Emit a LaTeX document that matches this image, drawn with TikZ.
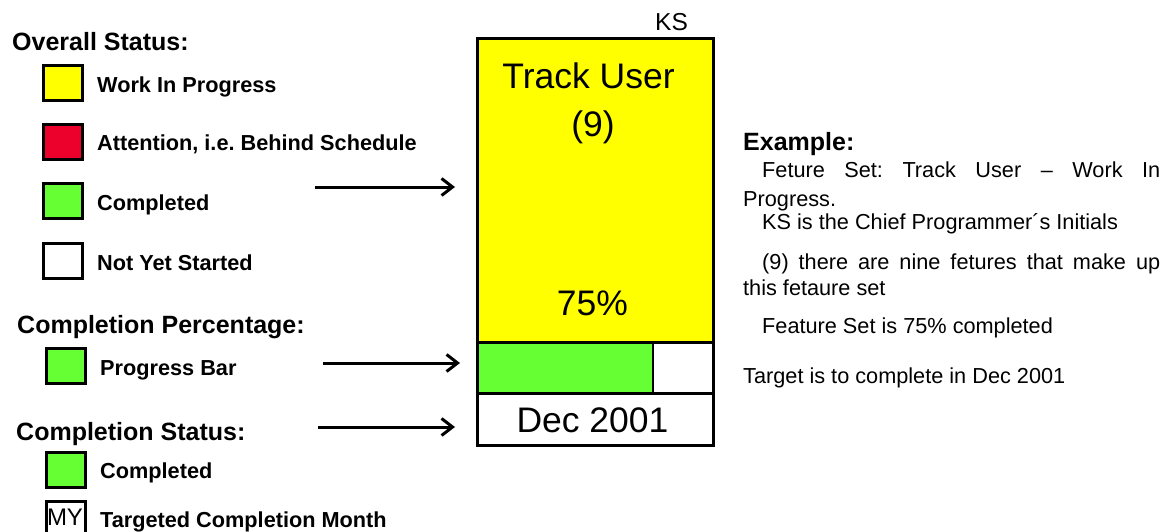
\documentclass[tikz,border=0pt]{standalone}
\usepackage{fontspec}
\setmainfont{Liberation Sans}
\usetikzlibrary{arrows.meta,positioning}

\definecolor{wipyellow}{RGB}{255,255,0}
\definecolor{lategred}{RGB}{236,0,44}
\definecolor{donegreen}{RGB}{102,255,51}

\frenchspacing

\tikzset{
  swatch/.style={draw, line width=3pt, minimum width=39pt, minimum height=35pt, inner sep=0pt},
  heading/.style={anchor=base west, inner sep=0pt, font=\fontsize{25}{28}\selectfont\bfseries},
  item/.style={anchor=base west, inner sep=0pt, font=\fontsize{21.7}{24}\selectfont\bfseries},
  note/.style={anchor=base west, inner sep=0pt, font=\fontsize{21.7}{24}\selectfont},
  big/.style={anchor=base, inner sep=0pt, font=\fontsize{35.5}{40}\selectfont},
  cell/.style={draw, line width=3pt, outer sep=0pt, inner sep=0pt, anchor=north west},
  pointer/.style={line width=3pt, -{Straight Barb[length=11pt,width=17pt]}}
}

\begin{document}
\begin{tikzpicture}[x=1pt, y=-1pt]
  \useasboundingbox (0,0) rectangle (1170,532);

  % Legend
  \node[heading] (overall) at (12,51) {Overall Status:};
  \node[swatch, fill=wipyellow] (s-wip) at (62.5,83.5) {};
  \node[item] (l-wip) at (97,93) {Work In Progress};
  \node[swatch, fill=lategred] (s-late) at (62.5,142.5) {};
  \node[item] (l-late) at (97,151) {Attention, i.e. Behind Schedule};
  \node[swatch, fill=donegreen] (s-done) at (62.5,201) {};
  \node[item] (l-done) at (97,210) {Completed};
  \node[swatch, fill=white] (s-new) at (62.5,261) {};
  \node[item] (l-new) at (97,270) {Not Yet Started};
  %--
  \node[heading] (percent) at (17,333) {Completion Percentage:};
  \node[swatch, fill=donegreen] (s-bar) at (66,365.5) {};
  \node[item] (l-bar) at (100,375) {Progress Bar};
  %--
  \node[heading] (cstatus) at (16,440) {Completion Status:};
  \node[swatch, fill=donegreen] (s-comp) at (66,469.5) {};
  \node[item] (l-comp) at (100,478) {Completed};
  \node[swatch, fill=white, minimum height=37pt] (s-month) at (66,520) {};
  \node[anchor=base, inner sep=0pt, font=\fontsize{24}{26}\selectfont] (my) at (65,525) {MY};
  \node[item] (l-month) at (100,527) {Targeted Completion Month};

  % Feature set box
  \node[cell, fill=wipyellow, minimum width=236pt, minimum height=303pt] (fs) at (477,39) {};
  \node[cell, fill=white, minimum width=236pt, minimum height=51pt] (barrow) at (fs.south west) {};
  \node[cell, fill=donegreen, line width=2.5pt, minimum width=176pt, minimum height=51pt] (bar) at (fs.south west) {};
  \node[cell, minimum width=236pt, minimum height=51pt] (barrow2) at (fs.south west) {};
  \node[cell, fill=white, minimum width=236pt, minimum height=52pt] (date) at (barrow.south west) {};
  \node[anchor=base, inner sep=0pt, font=\fontsize{24.5}{28}\selectfont] (ks) at (671.5,31) {KS};
  \node[big] (name) at (588.5,89) {Track User};
  \node[big] (count) at (593,137) {(9)};
  \node[big] (pct) at (592.5,315) {75\%};
  \node[big] (month) at (592.5,432) {Dec 2001};

  % Example notes
  \node[heading] (example) at (743,151) {Example:};
  \node[note] (n1) at (762,178) {\makebox[398pt][s]{Feture Set: Track User – Work In}};
  \node[note] (n1b) at (743,206) {Progress.};
  \node[note] (n2) at (762,229) {KS is the Chief Programmer´s Initials};
  \node[note] (n3) at (762,269) {\makebox[398pt][s]{(9) there are nine fetures that make up}};
  \node[note] (n3b) at (743,295) {this fetaure set};
  \node[note] (n4) at (762,333) {Feature Set is 75\% completed};
  \node[note] (n5) at (743,383) {Target is to complete in Dec 2001};

  % Connect the legend to the box
  \coordinate (p1) at (315,187);
  \coordinate (q1) at ([xshift=-22pt]fs.west |- p1);
  \coordinate (p2) at (323,363);
  \coordinate (q2) at ([xshift=-17pt]barrow.west |- p2);
  \coordinate (p3) at (318,427);
  \coordinate (q3) at ([xshift=-22pt]date.west |- p3);
  \draw[pointer] (p1) -- (q1);
  \draw[pointer] (p2) -- (q2);
  \draw[pointer] (p3) -- (q3);
\end{tikzpicture}
\end{document}
